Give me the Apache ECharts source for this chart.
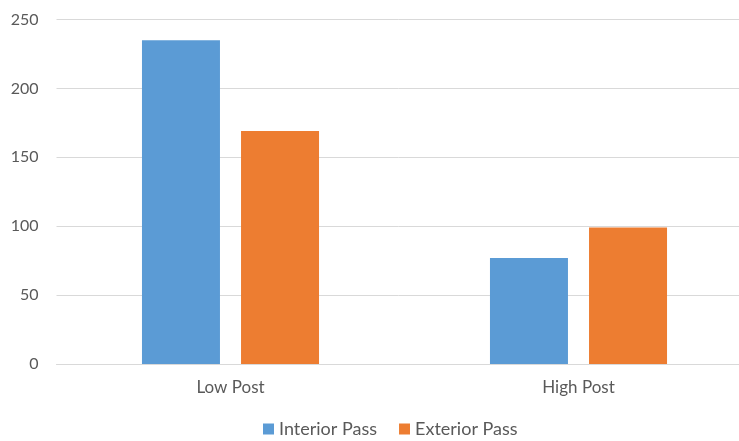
<!DOCTYPE html>
<html>
<head>
<meta charset="utf-8">
<script src="https://cdn.jsdelivr.net/npm/echarts@6/dist/echarts.min.js"></script>
<style>
  html, body { margin: 0; padding: 0; background: #fff; }
  #chart { width: 739px; height: 441px; }
</style>
</head>
<body>
<div id="chart"></div>
<script>
// Pass counts by post position
const categories = ['Low Post', 'High Post'];
const interiorPass = [235, 77];
const exteriorPass = [169, 99];
const yTicks = { min: 0, max: 250, interval: 50 };

const font = 'Lato, "Open Sans", sans-serif';
const chart = echarts.init(document.getElementById('chart'), null, { renderer: 'canvas' });

chart.setOption({
  animation: false,
  backgroundColor: '#ffffff',
  // the plot runs slightly past the right edge of the canvas
  grid: {
    left: 56.5, width: 696, top: 19.5, height: 344.5,
    containLabel: false, outerBoundsMode: 'none'
  },
  legend: {
    top: 420,
    left: 263,
    padding: 0,
    itemWidth: 11,
    itemHeight: 11,
    itemGap: 22,
    icon: 'rect',
    textStyle: { color: '#595959', fontSize: 18, fontFamily: font, padding: [0, 0, 0, 0] },
    data: ['Interior Pass', 'Exterior Pass']
  },
  xAxis: {
    type: 'category',
    data: categories,
    axisLine: { show: true, lineStyle: { color: '#d9d9d9', width: 1 } },
    axisTick: { show: false },
    axisLabel: { color: '#595959', fontSize: 17, fontFamily: font, margin: 15 }
  },
  yAxis: {
    type: 'value',
    min: yTicks.min,
    max: yTicks.max,
    interval: yTicks.interval,
    axisLine: { show: false },
    axisTick: { show: false },
    axisLabel: { color: '#595959', fontSize: 16, fontFamily: font, margin: 18 },
    splitLine: { lineStyle: { color: '#d9d9d9', width: 1 } }
  },
  series: [
    {
      name: 'Interior Pass',
      type: 'bar',
      data: interiorPass,
      barWidth: 78,
      barGap: '27%',
      itemStyle: { color: '#5b9bd5' }
    },
    {
      name: 'Exterior Pass',
      type: 'bar',
      data: exteriorPass,
      barWidth: 78,
      barGap: '27%',
      itemStyle: { color: '#ed7d31' }
    }
  ]
});
</script>
</body>
</html>
